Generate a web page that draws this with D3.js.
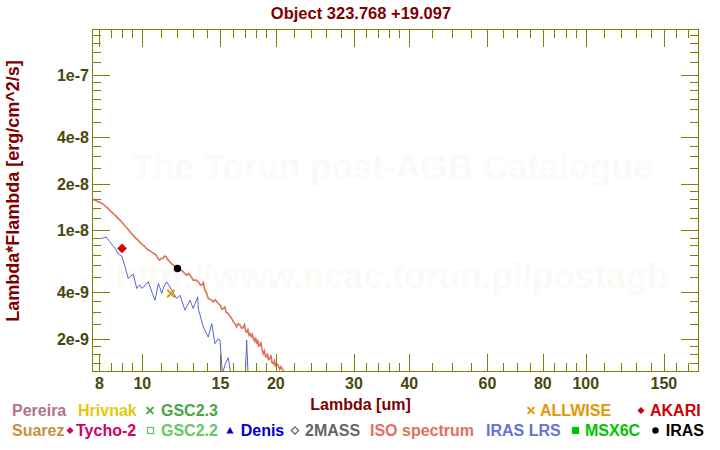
<!DOCTYPE html>
<html><head><meta charset="utf-8">
<script src="https://cdn.jsdelivr.net/npm/d3@7"></script>
<style>
html,body{margin:0;padding:0;background:#fff;}
svg{display:block;}
text{font-family:"Liberation Sans",Arial,Helvetica,sans-serif;font-weight:bold;}
</style></head><body>
<svg id="chart" width="720" height="450"></svg>
<script>
// ---------------- data ----------------
const titleText = "Object 323.768 +19.097";
const xTitle = "Lambda [um]";
const yTitle = "Lambda*Flambda [erg/cm^2/s]";
const watermark1 = "The Torun post-AGB Catalogue";
const watermark2 = "http://www.ncac.torun.pl/postagb";

// ISO spectrum (um, erg/cm^2/s)
const isoLambda = [7.70,7.78,7.86,7.95,8.05,8.156,8.26,8.369,8.48,8.59,8.70,8.815,8.93,9.047,9.17,9.286,9.41,9.528,9.65,9.779,9.91,10.04,10.12,10.21,10.35,10.48,10.61,10.75,10.85,10.94,11.03,11.13,11.22,11.32,11.38,11.44,11.60,11.75,11.90,12.05,12.20,12.37,12.48,12.59,12.70,12.81,12.92,13.02,13.20,13.37,13.48,13.61,13.72,13.84,13.96,14.08,14.25,14.45,14.60,14.83,15.00,15.10,15.23,15.35,15.45,15.63,15.75,15.91,16.05,16.20,16.32,16.45,16.61,16.75,16.89,17.00,17.10,17.19,17.30,17.40,17.49,17.60,17.70,17.79,17.90,18.00,18.10,18.20,18.30,18.42,18.50,18.62,18.74,18.85,18.95,19.07,19.15,19.25,19.40,19.50,19.60,19.73,19.85,19.95,20.05,20.25,20.40,20.55,20.78,20.95,21.19];
const isoFlux = [15.84e-9,15.70e-9,15.55e-9,15.28e-9,15.05e-9,14.77e-9,14.25e-9,13.86e-9,13.30e-9,12.87e-9,12.45e-9,11.95e-9,11.55e-9,11.09e-9,10.55e-9,10.15e-9,9.70e-9,9.33e-9,8.95e-9,8.66e-9,8.30e-9,8.04e-9,7.90e-9,7.66e-9,7.45e-9,7.28e-9,7.12e-9,6.93e-9,6.60e-9,6.44e-9,6.60e-9,6.60e-9,6.85e-9,6.76e-9,6.55e-9,6.44e-9,6.15e-9,5.98e-9,5.80e-9,5.69e-9,5.60e-9,5.41e-9,5.25e-9,5.16e-9,5.28e-9,5.16e-9,4.98e-9,4.79e-9,4.80e-9,4.67e-9,4.50e-9,4.44e-9,4.62e-9,4.13e-9,3.95e-9,3.65e-9,3.60e-9,3.47e-9,3.58e-9,3.39e-9,3.30e-9,3.12e-9,3.15e-9,3.22e-9,2.98e-9,2.92e-9,2.82e-9,2.71e-9,2.58e-9,2.50e-9,2.39e-9,2.52e-9,2.46e-9,2.35e-9,2.39e-9,2.48e-9,2.25e-9,2.22e-9,2.30e-9,2.12e-9,2.17e-9,2.08e-9,2.15e-9,2.02e-9,1.95e-9,2.05e-9,1.87e-9,1.98e-9,1.80e-9,1.83e-9,1.92e-9,1.72e-9,1.61e-9,1.68e-9,1.55e-9,1.535e-9,1.62e-9,1.48e-9,1.50e-9,1.58e-9,1.42e-9,1.392e-9,1.45e-9,1.33e-9,1.40e-9,1.357e-9,1.28e-9,1.33e-9,1.26e-9,1.22e-9,1.19e-9];

// IRAS LRS spectrum
const lrsLambda = [8.06,8.18,8.285,8.37,8.456,8.57,8.68,8.83,8.99,9.14,9.298,9.42,9.54,9.714,9.80,9.88,9.96,10.05,10.18,10.31,10.55,10.68,10.87,10.95,11.06,11.20,11.35,11.50,11.65,11.95,12.16,12.48,12.81,13.02,13.33,13.37,13.73,14.08,14.34,14.58,14.80,14.97,15.15,15.40,15.63,15.85,16.10,16.60,17.04,17.19,17.34,17.70];
const lrsFlux = [8.88e-9,8.95e-9,9.09e-9,8.75e-9,8.45e-9,8.00e-9,7.66e-9,7.04e-9,6.83e-9,5.83e-9,4.91e-9,5.10e-9,5.23e-9,4.23e-9,4.40e-9,4.44e-9,4.25e-9,4.30e-9,4.50e-9,4.67e-9,3.89e-9,3.56e-9,4.56e-9,4.30e-9,3.93e-9,4.40e-9,4.67e-9,4.40e-9,4.13e-9,3.65e-9,3.83e-9,3.07e-9,3.56e-9,3.15e-9,3.74e-9,3.15e-9,2.39e-9,2.06e-9,2.52e-9,1.87e-9,2.00e-9,1.97e-9,1.20e-9,1.40e-9,1.52e-9,1.15e-9,1.00e-9,0.95e-9,1.05e-9,1.97e-9,1.05e-9,0.90e-9];

// photometry
const photName = ["AKARI","IRAS","ALLWISE"];
const photLambda = [9.0, 12.0, 11.6];
const photFlux = [7.66e-9, 5.69e-9, 3.93e-9];

// axes
const xMajorTicks = [8,10,15,20,30,40,60,80,100,150];
const xTickLabels = ["8","10","15","20","30","40","60","80","100","150"];
const xMinorTicks = [8.5,9,9.5,11,12,13,14,16,17,18,19,22,24,26,28,32,34,36,38,45,50,55,65,70,75,85,90,95,110,120,130,140,160,170];
const yMajorTicks = [2e-9,4e-9,1e-8,2e-8,4e-8,1e-7];
const yTickLabels = ["2e-9","4e-9","1e-8","2e-8","4e-8","1e-7"];
const yMinorTicks = [1.4e-9,1.6e-9,1.8e-9,2.5e-9,3e-9,3.5e-9,5e-9,6e-9,7e-9,8e-9,9e-9,1.2e-8,1.4e-8,1.6e-8,1.8e-8,2.5e-8,3e-8,3.5e-8,5e-8,6e-8,7e-8,8e-8,9e-8,1.2e-7,1.4e-7,1.6e-7,1.8e-7];
const xDomain = [7.7, 180];
const yDomain = [1.23e-9, 1.97e-7];

// legend
const legendNames  = ["Pereira","Hrivnak","GSC2.3","ALLWISE","AKARI","Suarez","Tycho-2","GSC2.2","Denis","2MASS","ISO spectrum","IRAS LRS","MSX6C","IRAS"];
const legendColors = ["#b4708c","#e8c60a","#44a844","#e09806","#d00000","#c8903e","#d20066","#64c864","#0000cc","#666666","#e07060","#6672d6","#00c400","#000000"];
const legendMarkers= ["","","cross","cross","diamond","","diamond","squareOpen","triangle","diamondOpen","","","square","circle"];

// ---------------- layout ----------------
const L = 92, R = 699, T = 29, B = 372;
const olive = "#808000", tickText = "#48480e", dark = "#800000";
const legendRowY = [416, 436];
const legendRow  = [0,0,0,0,0,1,1,1,1,1,1,1,1,1];
const legendTextX = [12,78,161,540,650,12,76,161,240.7,305,370,486,585,665.7];
const legendMarkX = [0,0,150,531,641,0,70,150.5,230,295,0,0,575.5,655.5];

const svg = d3.select("#chart");
const x = d3.scaleLog().domain(xDomain).range([L, R]);
const y = d3.scaleLog().domain(yDomain).range([B, T]);

// watermark
svg.append("text").attr("x", 392).attr("y", 178.5).attr("text-anchor","middle")
  .attr("font-size", 35).attr("fill", "#fcfaf7").text(watermark1);
svg.append("text").attr("x", 392).attr("y", 288).attr("text-anchor","middle")
  .attr("font-size", 35).attr("fill", "#fcfaf7").text(watermark2);

// clip
svg.append("defs").append("clipPath").attr("id","plotclip")
  .append("rect").attr("x", L).attr("y", T).attr("width", R-L).attr("height", B-T);

const plot = svg.append("g").attr("clip-path","url(#plotclip)");
const line = d3.line().x(d => x(d[0])).y(d => y(d[1]));

plot.append("path").datum(lrsLambda.map((l,i)=>[l, lrsFlux[i]]))
  .attr("d", line).attr("fill","none").attr("stroke","#5864d8").attr("stroke-width",1);
plot.append("path").datum(isoLambda.map((l,i)=>[l, isoFlux[i]]))
  .attr("d", line).attr("fill","none").attr("stroke","#e0705a").attr("stroke-width",1.6);

function marker(g, type, cx, cy, color, s) {
  if (type === "cross") {
    g.append("path").attr("d", `M${cx-s},${cy-s}L${cx+s},${cy+s}M${cx-s},${cy+s}L${cx+s},${cy-s}`)
      .attr("stroke", color).attr("stroke-width", 2).attr("fill","none");
  } else if (type === "diamond" || type === "diamondOpen") {
    const p = g.append("path").attr("d", `M${cx},${cy-s}L${cx+s},${cy}L${cx},${cy+s}L${cx-s},${cy}Z`);
    if (type === "diamond") p.attr("fill", color);
    else p.attr("fill","none").attr("stroke", color).attr("stroke-width", 1.3);
  } else if (type === "square") {
    g.append("rect").attr("x", cx-s).attr("y", cy-s).attr("width", 2*s).attr("height", 2*s).attr("fill", color);
  } else if (type === "squareOpen") {
    g.append("rect").attr("x", cx-s+0.6).attr("y", cy-s+0.6).attr("width", 2*s-1.2).attr("height", 2*s-1.2)
      .attr("fill","none").attr("stroke", color).attr("stroke-width", 1.3);
  } else if (type === "triangle") {
    g.append("path").attr("d", `M${cx},${cy-s}L${cx+s},${cy+s*0.8}L${cx-s},${cy+s*0.8}Z`).attr("fill", color);
  } else if (type === "circle") {
    g.append("circle").attr("cx", cx).attr("cy", cy).attr("r", s).attr("fill", color);
  }
}

// photometry points
const photStyle = {AKARI:["diamond","#d00000",4.8], IRAS:["circle","#000000",3.7], ALLWISE:["cross","#e09806",3.7]};
photName.forEach((n,i) => {
  const st = photStyle[n];
  marker(svg, st[0], x(photLambda[i]), y(photFlux[i]), st[1], st[2]);
});

// frame & ticks
const axis = svg.append("g").attr("stroke", olive).attr("stroke-width", 1).attr("shape-rendering","crispEdges");
axis.append("rect").attr("x", L+0.5).attr("y", T+0.5).attr("width", R-L-1).attr("height", B-T-1).attr("fill","none");
function xt(v, len) {
  const px = Math.round(x(v)) + 0.5;
  axis.append("line").attr("x1", px).attr("x2", px).attr("y1", B).attr("y2", B-len);
  axis.append("line").attr("x1", px).attr("x2", px).attr("y1", T).attr("y2", T+len);
}
function yt(v, len) {
  const py = Math.round(y(v)) + 0.5;
  axis.append("line").attr("y1", py).attr("y2", py).attr("x1", L).attr("x2", L+len);
  axis.append("line").attr("y1", py).attr("y2", py).attr("x1", R).attr("x2", R-len);
}
xMajorTicks.forEach(v => xt(v, 18));
xMinorTicks.forEach(v => xt(v, 9));
yMajorTicks.forEach(v => yt(v, 18));
yMinorTicks.forEach(v => yt(v, 9));

// tick labels
xMajorTicks.forEach((v,i) => {
  svg.append("text").attr("x", x(v)).attr("y", 388.5).attr("text-anchor","middle")
    .attr("font-size", 16).attr("fill", tickText).text(xTickLabels[i]);
});
yMajorTicks.forEach((v,i) => {
  svg.append("text").attr("x", 89).attr("y", y(v) + 6).attr("text-anchor","end")
    .attr("font-size", 16).attr("fill", tickText).text(yTickLabels[i]);
});

// titles
svg.append("text").attr("x", 361).attr("y", 19).attr("text-anchor","middle")
  .attr("font-size", 16.5).attr("fill", dark).text(titleText);
svg.append("text").attr("x", 360.5).attr("y", 410).attr("text-anchor","middle")
  .attr("font-size", 16).attr("fill", dark).text(xTitle);
svg.append("text").attr("transform", "translate(19,191) rotate(-90)").attr("text-anchor","middle")
  .attr("font-size", 18).attr("fill", dark).text(yTitle);

// legend
legendNames.forEach((n,i) => {
  const by = legendRowY[legendRow[i]];
  if (legendMarkers[i]) {
    const s = legendMarkers[i] === "cross" ? 3.4 : (legendMarkers[i] === "circle" ? 3.2 : 3.6);
    marker(svg, legendMarkers[i], legendMarkX[i], by - 5.5, legendColors[i], s);
  }
  svg.append("text").attr("x", legendTextX[i]).attr("y", by)
    .attr("font-size", 16).attr("fill", legendColors[i]).text(n);
});
</script>
</body></html>
